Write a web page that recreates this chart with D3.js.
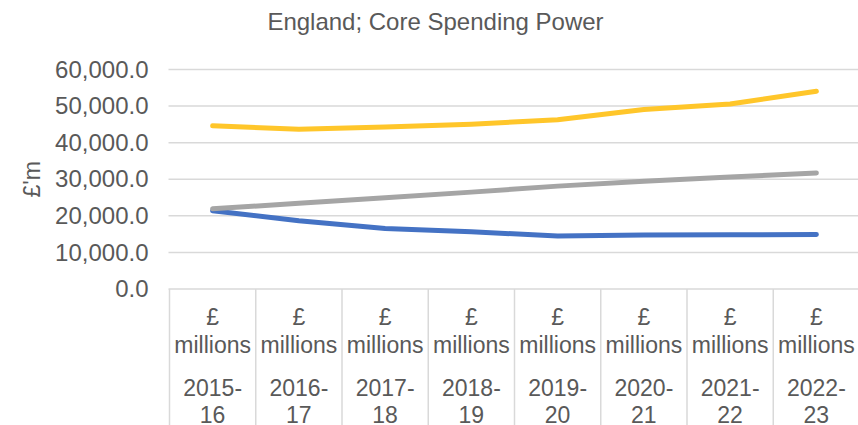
<!DOCTYPE html>
<html>
<head>
<meta charset="utf-8">
<script src="https://cdn.jsdelivr.net/npm/d3@7"></script>
<style>
  body { margin: 0; background: #fff; }
  text { font-family: "Liberation Sans", Arial, sans-serif; fill: #595959; }
</style>
</head>
<body>
<script>
var w = 858;
var h = 425;
var margin = {top: 69.5, right: -1.5, bottom: 136, left: 169.5};

var years = ["2015-16", "2016-17", "2017-18", "2018-19", "2019-20", "2020-21", "2021-22", "2022-23"];
var unitLabel = "£ millions";
var yTicks = [0, 10000, 20000, 30000, 40000, 50000, 60000];

// values, £m
var coreSpendingPower = [44610, 43700, 44300, 45060, 46250, 49070, 50580, 54030];
var councilTax = [21930, 23430, 24930, 26480, 28120, 29480, 30630, 31720];
var settlementFunding = [21380, 18650, 16510, 15640, 14500, 14780, 14830, 14870];

var series = [
    {name: "Settlement Funding Assessment", values: settlementFunding, color: "#4472C4"},
    {name: "Council Tax", values: councilTax, color: "#A5A5A5"},
    {name: "Core Spending Power", values: coreSpendingPower, color: "#FFC62A"}
];

var xScale = d3.scaleBand()
    .domain(years)
    .range([margin.left, w - margin.right])
    .paddingInner(0)
    .paddingOuter(0);

var yScale = d3.scaleLinear()
    .domain([0, 60000])
    .range([h - margin.bottom, margin.top]);

var svg = d3.select("body")
    .append("svg")
    .attr("width", w)
    .attr("height", h);

// title
svg.append("text")
    .attr("x", 435.5)
    .attr("y", 29.5)
    .attr("text-anchor", "middle")
    .attr("font-size", "24px")
    .text("England; Core Spending Power");

// gridlines
svg.append("g")
    .selectAll("line")
    .data(yTicks.filter(function(d){ return d > 0; }))
    .enter()
    .append("line")
    .attr("x1", margin.left - 1)
    .attr("x2", w)
    .attr("y1", function(d){ return yScale(d); })
    .attr("y2", function(d){ return yScale(d); })
    .attr("stroke", "#D9D9D9")
    .attr("stroke-width", 1.5);

// y axis
var yAxis = d3.axisLeft(yScale)
    .tickValues(yTicks)
    .tickFormat(d3.format(",.1f"))
    .tickSize(0)
    .tickPadding(21);

var gy = svg.append("g")
    .attr("transform", "translate(" + margin.left + ",0)")
    .call(yAxis);
gy.select(".domain").remove();
gy.selectAll("text")
    .attr("font-size", "24px")
    .attr("fill", "#595959")
    .attr("font-family", "'Liberation Sans', Arial, sans-serif");

svg.append("text")
    .attr("transform", "translate(40," + yScale(30000) + ") rotate(-90)")
    .attr("text-anchor", "middle")
    .attr("font-size", "23px")
    .text("£'m");

// category table under the plot
var base = yScale(0);
var bounds = years.map(function(d){ return xScale(d); }).concat([xScale(years[years.length - 1]) + xScale.bandwidth()]);

svg.append("line")
    .attr("x1", margin.left - 1)
    .attr("x2", w)
    .attr("y1", base)
    .attr("y2", base)
    .attr("stroke", "#D9D9D9")
    .attr("stroke-width", 1.5);

svg.append("g")
    .selectAll("line")
    .data(bounds)
    .enter()
    .append("line")
    .attr("x1", function(d){ return d; })
    .attr("x2", function(d){ return d; })
    .attr("y1", base)
    .attr("y2", h)
    .attr("stroke", "#D9D9D9")
    .attr("stroke-width", 1.5);

var cats = svg.append("g")
    .selectAll("g")
    .data(years)
    .enter()
    .append("g")
    .attr("transform", function(d){ return "translate(" + (xScale(d) + xScale.bandwidth() / 2) + ",0)"; });

var unitParts = unitLabel.split(" ");
cats.append("text")
    .attr("text-anchor", "middle")
    .attr("font-size", "23px")
    .selectAll("tspan")
    .data(function(d){
        var p = d.split("-");
        return [
            {t: unitParts[0], y: 325},
            {t: unitParts[1], y: 353},
            {t: p[0] + "-", y: 396},
            {t: p[1], y: 423}
        ];
    })
    .enter()
    .append("tspan")
    .attr("x", 0)
    .attr("y", function(d){ return d.y; })
    .text(function(d){ return d.t; });

// lines
var line = d3.line()
    .x(function(d, i){ return xScale(years[i]) + xScale.bandwidth() / 2; })
    .y(function(d){ return yScale(d); });

svg.append("g")
    .selectAll("path")
    .data(series)
    .enter()
    .append("path")
    .attr("d", function(s){ return line(s.values); })
    .attr("fill", "none")
    .attr("stroke", function(s){ return s.color; })
    .attr("stroke-width", 5)
    .attr("stroke-linecap", "round")
    .attr("stroke-linejoin", "round");
</script>
</body>
</html>
